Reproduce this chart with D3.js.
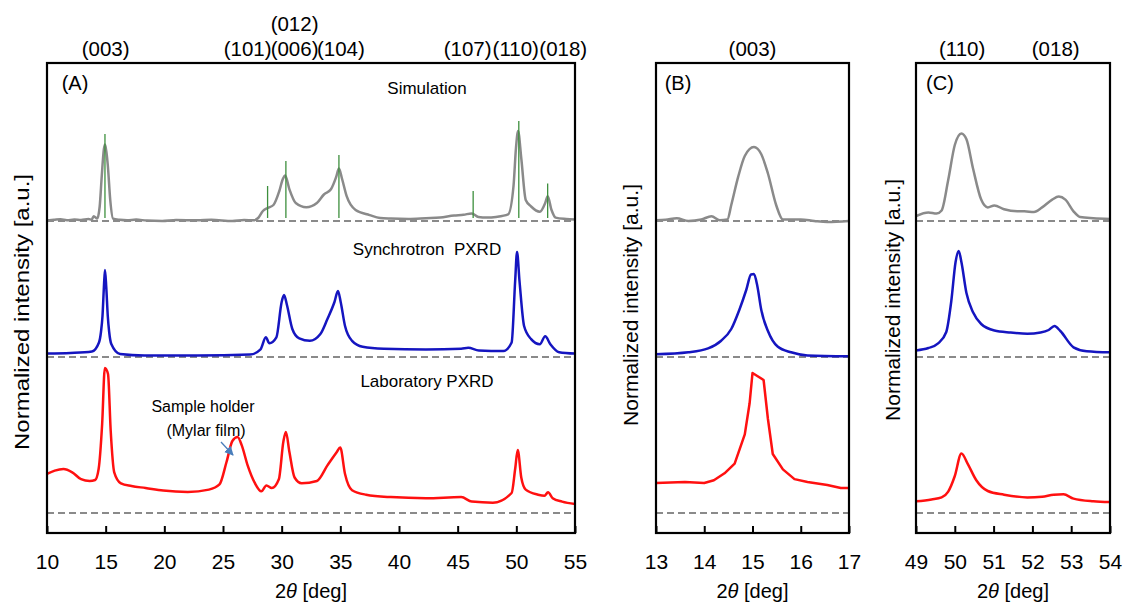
<!DOCTYPE html>
<html><head><meta charset="utf-8">
<script src="https://cdn.jsdelivr.net/npm/d3@7"></script>
<style>
body{margin:0;background:#fff}
text{font-family:"Liberation Sans",Arial,sans-serif;fill:#000}
</style>
</head><body>
<svg id="c" width="1128" height="607"></svg>
<script>
// ---------- data (2θ in deg, normalized intensity above each baseline) ----------
const simA = [[10.0,0.007],[10.6,0.012],[11.14,0.017],[11.7,0.008],[12.33,0.014],[12.9,0.01],[13.53,0.02],[13.8,0.012],[13.98,0.048],[14.28,0.024],[14.49,0.145],[14.67,0.455],[14.85,0.72],[14.94,0.765],[15.05,0.7],[15.18,0.56],[15.39,0.21],[15.63,0.024],[16.2,0.012],[16.83,0.007],[17.6,0.014],[18.5,0.004],[19.82,0.0],[21.0,0.01],[22.8,0.007],[24.0,0.012],[25.8,0.0],[26.8,0.01],[27.6,0.007],[28.0,0.03],[28.4,0.1],[28.8,0.13],[29.3,0.16],[29.8,0.3],[30.1,0.42],[30.3,0.455],[30.66,0.317],[31.2,0.18],[32.1,0.138],[33.0,0.18],[33.6,0.265],[34.2,0.317],[34.64,0.438],[34.88,0.524],[35.15,0.42],[35.54,0.248],[36.3,0.11],[37.5,0.059],[38.4,0.03],[39.3,0.024],[40.8,0.02],[42.3,0.028],[43.5,0.035],[44.7,0.055],[45.5,0.062],[46.2,0.076],[46.77,0.041],[47.5,0.035],[48.26,0.041],[49.3,0.066],[49.76,0.35],[49.97,0.73],[50.15,0.9],[50.42,0.628],[50.8,0.21],[51.26,0.145],[52.0,0.093],[52.46,0.18],[52.67,0.248],[53.0,0.11],[53.35,0.034],[54.25,0.02],[55.0,0.014]];
const syncA = [[10.0,0.034],[12.0,0.04],[13.83,0.055],[14.43,0.145],[14.6,0.25],[14.73,0.41],[14.85,0.7],[14.94,0.87],[15.05,0.7],[15.18,0.41],[15.3,0.25],[15.48,0.13],[16.23,0.03],[18.3,0.015],[22.8,0.015],[27.3,0.024],[28.2,0.076],[28.65,0.197],[28.95,0.138],[29.55,0.197],[30.0,0.55],[30.2,0.62],[30.45,0.52],[30.9,0.283],[31.5,0.186],[32.4,0.162],[33.3,0.23],[33.9,0.38],[34.5,0.55],[34.8,0.66],[35.03,0.55],[35.4,0.31],[36.0,0.162],[36.9,0.103],[38.7,0.083],[42.3,0.076],[45.3,0.083],[45.9,0.093],[46.8,0.066],[48.9,0.059],[49.6,0.145],[49.9,0.76],[50.06,1.05],[50.27,0.76],[50.66,0.31],[51.26,0.179],[52.0,0.128],[52.46,0.207],[52.9,0.128],[53.65,0.048],[55.0,0.034]];
const labA = [[10.0,0.39],[10.66,0.424],[11.4,0.44],[12.15,0.407],[12.9,0.338],[13.64,0.32],[14.1,0.33],[14.4,0.44],[14.7,0.89],[14.93,1.45],[15.2,1.39],[15.43,0.82],[15.73,0.407],[16.3,0.297],[17.2,0.27],[18.4,0.25],[19.9,0.224],[22.0,0.21],[23.8,0.234],[24.7,0.286],[25.3,0.51],[25.8,0.72],[26.24,0.76],[26.6,0.676],[27.1,0.476],[27.7,0.303],[28.27,0.217],[28.7,0.276],[29.16,0.25],[29.76,0.338],[30.15,0.717],[30.36,0.81],[30.66,0.61],[31.1,0.355],[31.7,0.297],[33.0,0.32],[33.9,0.476],[34.7,0.61],[34.99,0.655],[35.4,0.39],[36.0,0.228],[37.2,0.183],[39.3,0.159],[42.3,0.148],[45.3,0.159],[46.2,0.114],[48.0,0.103],[49.6,0.2],[49.9,0.44],[50.12,0.63],[50.42,0.355],[50.8,0.234],[51.85,0.183],[52.4,0.172],[52.7,0.207],[53.1,0.148],[53.9,0.114],[55.0,0.09]];
const stickPos = [14.94, 28.8, 30.36, 34.88, 46.32, 50.21, 52.67];
const stickVal = [0.87, 0.35, 0.60, 0.66, 0.30, 1.00, 0.376];

const simB = [[13.0,0.008],[13.2,0.012],[13.43,0.027],[13.67,0.0],[13.94,0.015],[14.15,0.047],[14.32,0.008],[14.48,0.015],[14.56,0.16],[14.7,0.436],[14.84,0.65],[15.03,0.74],[15.18,0.67],[15.32,0.475],[15.49,0.16],[15.63,0.015],[16.0,0.015],[16.28,0.0],[16.55,-0.01],[17.0,0.0]];
const syncB = [[13.0,0.027],[13.67,0.047],[14.08,0.086],[14.35,0.163],[14.56,0.28],[14.73,0.475],[14.87,0.67],[14.97,0.825],[15.03,0.83],[15.1,0.71],[15.18,0.475],[15.32,0.26],[15.52,0.105],[15.8,0.047],[16.14,0.016],[17.0,0.008]];
const labB = [[13.0,0.30],[13.6,0.31],[14.0,0.30],[14.2,0.327],[14.42,0.397],[14.63,0.494],[14.84,0.786],[14.94,1.097],[15.0,1.40],[15.23,1.33],[15.32,0.94],[15.42,0.59],[15.63,0.436],[15.87,0.339],[16.14,0.31],[16.55,0.28],[16.83,0.25],[17.0,0.25]];

const simC = [[49.0,0.05],[49.32,0.086],[49.53,0.074],[49.66,0.105],[49.83,0.41],[50.0,0.76],[50.17,0.875],[50.3,0.817],[50.47,0.525],[50.68,0.214],[50.85,0.136],[51.02,0.156],[51.27,0.117],[51.61,0.097],[51.79,0.097],[52.04,0.09],[52.25,0.136],[52.51,0.214],[52.68,0.245],[52.85,0.214],[53.06,0.097],[53.23,0.039],[53.57,0.027],[54.0,0.02]];
const syncC = [[49.0,0.066],[49.32,0.09],[49.57,0.136],[49.78,0.25],[49.91,0.56],[50.02,0.95],[50.1,1.06],[50.17,0.95],[50.3,0.64],[50.47,0.447],[50.68,0.33],[51.02,0.265],[51.44,0.245],[51.87,0.233],[52.21,0.245],[52.42,0.27],[52.57,0.31],[52.72,0.26],[53.06,0.097],[53.4,0.058],[54.0,0.047]];
const labC = [[49.0,0.117],[49.4,0.136],[49.66,0.156],[49.83,0.214],[50.0,0.37],[50.17,0.595],[50.34,0.486],[50.55,0.33],[50.85,0.22],[51.27,0.183],[51.87,0.156],[52.25,0.163],[52.55,0.183],[52.8,0.187],[53.06,0.144],[53.57,0.117],[54.0,0.109]];

const seriesNames = ["Simulation", "Synchrotron  PXRD", "Laboratory PXRD"];
const offsets = [3.12, 1.76, 0.20];   // stacking baselines

const ticksA = [10,15,20,25,30,35,40,45,50,55];
const ticksB = [13,14,15,16,17];
const ticksC = [49,50,51,52,53,54];

const hklA = ["(003)","(101)","(006)","(104)","(107)","(110)","(018)"];
const hklAPos = [15.0, 27.1, 31.1, 35.05, 45.85, 49.95, 54.0];
const hklA2 = ["(012)"], hklA2Pos = [31.1];
const hklB = ["(003)"], hklBPos = [15.0];
const hklC = ["(110)","(018)"], hklCPos = [50.19, 52.6];

// ---------- drawing ----------
const svg = d3.select("#c");
const plotTop = 63, plotBottom = 533;
const y = d3.scaleLinear().domain([0, 4.7]).range([plotBottom, plotTop]);
const colors = ["#8a8a8a", "#1515c0", "#ff1010"];
const curves = [d3.curveMonotoneX, d3.curveMonotoneX, d3.curveMonotoneX];

const panels = [
  {x0:47, x1:575, dom:[10,55], ticks:ticksA, data:[simA,syncA,labA], letter:"(A)", lx:75, ylab:{x:22,y:312,len:276,fs:21},
   hkl:hklA, hklPos:hklAPos, hkl2:hklA2, hkl2Pos:hklA2Pos, labCurve:d3.curveMonotoneX},
  {x0:656, x1:849, dom:[13,17], ticks:ticksB, data:[simB,syncB,labB], letter:"(B)", lx:678, ylab:{x:631,y:305,len:242,fs:20},
   hkl:hklB, hklPos:hklBPos, hkl2:[], hkl2Pos:[], labCurve:d3.curveLinear},
  {x0:916, x1:1110, dom:[49,54], ticks:ticksC, data:[simC,syncC,labC], letter:"(C)", lx:940, ylab:{x:893,y:300,len:242,fs:20},
   hkl:hklC, hklPos:hklCPos, hkl2:[], hkl2Pos:[], labCurve:d3.curveMonotoneX}
];

const defs = svg.append("defs");
defs.append("marker").attr("id", "arr").attr("viewBox", "0 0 10 10")
  .attr("refX", 9).attr("refY", 5).attr("markerWidth", 7).attr("markerHeight", 7).attr("orient", "auto")
  .append("path").attr("d", "M0,0 L10,5 L0,10 z").attr("fill", "#4a7ebb");

panels.forEach((p, pi) => {
  const x = d3.scaleLinear().domain(p.dom).range([p.x0, p.x1]);
  const g = svg.append("g");
  const clipId = "clip" + pi;
  defs.append("clipPath").attr("id", clipId).append("rect")
    .attr("x", p.x0).attr("y", plotTop).attr("width", p.x1 - p.x0).attr("height", plotBottom - plotTop);
  const plot = g.append("g").attr("clip-path", `url(#${clipId})`);

  offsets.forEach(o => {
    plot.append("line").attr("x1", p.x0).attr("x2", p.x1)
      .attr("y1", y(o)).attr("y2", y(o))
      .attr("stroke", "#8a8a8a").attr("stroke-width", 2).attr("stroke-dasharray", "7,4");
  });

  p.data.forEach((d, i) => {
    const line = d3.line()
      .x(v => x(v[0])).y(v => y(v[1] + offsets[i]))
      .curve(i === 2 ? p.labCurve : curves[i]);
    plot.append("path").datum(d).attr("d", line)
      .attr("fill", "none").attr("stroke", colors[i]).attr("stroke-width", 2.5)
      .attr("stroke-linejoin", "round");
  });

  if (pi === 0) {
    plot.selectAll(".stick").data(stickPos.map((s, k) => [s, stickVal[k]])).enter()
      .append("line")
      .attr("x1", d => x(d[0])).attr("x2", d => x(d[0]))
      .attr("y1", y(offsets[0] + 0.03)).attr("y2", d => y(offsets[0] + d[1]))
      .attr("stroke", "#3d8f3d").attr("stroke-width", 1.3);
  }

  const ax = d3.axisBottom(x).tickValues(p.ticks).tickSize(-7).tickPadding(21).tickFormat(d3.format("d"));
  const axg = g.append("g").attr("transform", `translate(0,${plotBottom})`).call(ax);
  axg.select(".domain").remove();
  axg.selectAll(".tick line").attr("stroke", "#000").attr("stroke-width", 2);
  axg.selectAll(".tick text").attr("font-size", 21).attr("font-family", '"Liberation Sans",Arial,sans-serif').attr("fill", "#000");

  g.append("rect").attr("x", p.x0).attr("y", plotTop).attr("width", p.x1 - p.x0).attr("height", plotBottom - plotTop)
    .attr("fill", "none").attr("stroke", "#000").attr("stroke-width", 2.2);

  g.append("text").attr("x", p.lx).attr("y", 90).attr("text-anchor", "middle").attr("font-size", 20).text(p.letter);

  p.hkl.forEach((t, k) => {
    g.append("text").attr("x", x(p.hklPos[k])).attr("y", 56).attr("text-anchor", "middle").attr("font-size", 20.5).text(t);
  });
  p.hkl2.forEach((t, k) => {
    g.append("text").attr("x", x(p.hkl2Pos[k])).attr("y", 31).attr("text-anchor", "middle").attr("font-size", 20.5).text(t);
  });

  const xt = g.append("text").attr("x", (p.x0 + p.x1) / 2).attr("y", 598).attr("text-anchor", "middle").attr("font-size", 20);
  xt.append("tspan").text("2");
  xt.append("tspan").attr("font-style", "italic").text("θ");
  xt.append("tspan").text(" [deg]");

  g.append("text")
    .attr("transform", `translate(${p.ylab.x},${p.ylab.y}) rotate(-90)`)
    .attr("text-anchor", "middle").attr("dy", "0.35em")
    .attr("font-size", p.ylab.fs)
    .attr("textLength", p.ylab.len).attr("lengthAdjust", "spacingAndGlyphs")
    .text("Normalized intensity [a.u.]");

  if (pi === 0) {
    const nameX = 427;
    const nameY = [94, 255, 387];
    seriesNames.forEach((n, i) => {
      g.append("text").attr("x", nameX).attr("y", nameY[i]).attr("text-anchor", "middle")
        .attr("font-size", 17).style("white-space", "pre").text(n);
    });
    g.append("text").attr("x", 203).attr("y", 412).attr("text-anchor", "middle").attr("font-size", 16).text("Sample holder");
    g.append("text").attr("x", 206).attr("y", 436).attr("text-anchor", "middle").attr("font-size", 16).text("(Mylar film)");
    g.append("line").attr("x1", 221).attr("y1", 442).attr("x2", 233).attr("y2", 455)
      .attr("stroke", "#4a7ebb").attr("stroke-width", 1.3).attr("marker-end", "url(#arr)");
  }
});
</script>
</body></html>
